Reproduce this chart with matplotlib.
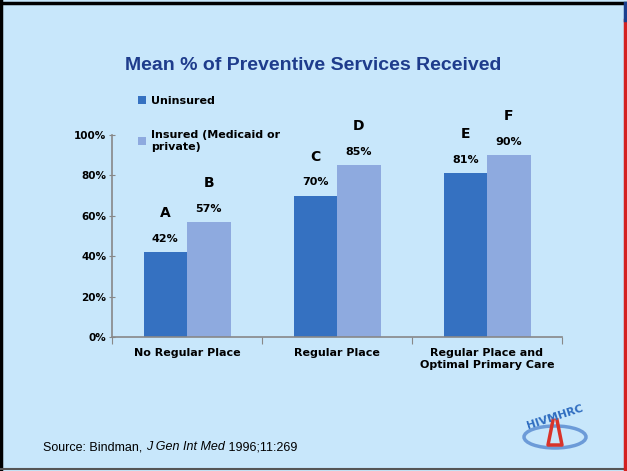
import matplotlib.pyplot as plt
import numpy as np
from matplotlib.lines import Line2D
from matplotlib.patches import Ellipse

categories = ["No Regular Place", "Regular Place", "Regular Place and\nOptimal Primary Care"]
uninsured = [42, 70, 81]
insured = [57, 85, 90]
uninsured_letters = ["A", "C", "E"]
insured_letters = ["B", "D", "F"]
uninsured_labels = ["42%", "70%", "81%"]
insured_labels = ["57%", "85%", "90%"]
yticks = [0, 20, 40, 60, 80, 100]
source_parts = [("Source: Bindman, ", "normal"), ("J Gen Int Med", "italic"), (" 1996;11:269", "normal")]

W, H = 627, 471
bg = "#C8E7FB"
c_unins = "#3571C1"
c_ins = "#8EAADF"

fig = plt.figure(figsize=(W / 100, H / 100), dpi=100, facecolor=bg)
ax = fig.add_axes([112 / W, (H - 337) / H, 450 / W, 202 / H])
ax.set_facecolor(bg)

x = np.arange(len(categories))
w = 0.29
b1 = ax.bar(x - w / 2, uninsured, w, color=c_unins, label="Uninsured")
b2 = ax.bar(x + w / 2, insured, w, color=c_ins, label="Insured (Medicaid or\nprivate)")

for bars, labs, lets in [(b1, uninsured_labels, uninsured_letters), (b2, insured_labels, insured_letters)]:
    for r, lab, let in zip(bars, labs, lets):
        cx = r.get_x() + r.get_width() / 2
        top = r.get_height()
        ax.annotate(lab, (cx, top), xytext=(0, 9.5), textcoords="offset points",
                    ha="center", va="center", fontsize=8, fontweight="bold", color="black")
        ax.annotate(let, (cx, top), xytext=(0, 28), textcoords="offset points",
                    ha="center", va="center", fontsize=10, fontweight="bold", color="black")

ax.set_xlim(-0.5, 2.5)
ax.set_ylim(0, 100)
ax.set_yticks(yticks)
ax.set_yticklabels([f"{t}%" for t in yticks], fontsize=7.5, fontweight="bold")
ax.set_xticks([-0.5, 0.5, 1.5, 2.5])
ax.set_xticklabels([])
ax.set_xticks(x, minor=True)
ax.set_xticklabels(categories, minor=True, fontsize=8, fontweight="bold")
ax.tick_params(axis="x", which="minor", length=0, pad=8)
ax.tick_params(axis="x", which="major", length=5, color="#888888", direction="out")
ax.tick_params(axis="y", length=4, color="#888888", direction="inout", pad=2)
for s in ["top", "right"]:
    ax.spines[s].set_visible(False)
for s in ["left", "bottom"]:
    ax.spines[s].set_color("#888888")
    ax.spines[s].set_linewidth(1.2)

fig.text(313 / W, 1 - 65 / H, "Mean % of Preventive Services Received", ha="center", va="center",
         fontsize=14, fontweight="bold", color="#1E3C8C", family="Liberation Sans")

leg = fig.legend(handles=[b1, b2], loc="upper left", bbox_to_anchor=(128 / W, 1 - 86 / H),
                 frameon=False, prop={"weight": "bold", "size": 8},
                 handlelength=0.7, handleheight=0.7, handletextpad=0.5, labelspacing=2.2)

# source line, pieces chained one after another
renderer = fig.canvas.get_renderer()
xpos = 43
for txt, st in source_parts:
    t = fig.text(xpos / W, 1 - 447 / H, txt, ha="left", va="center", fontsize=9,
                 family="Liberation Sans", style=st)
    bb = t.get_window_extent(renderer=renderer)
    xpos += bb.width

# logo stand-in
fig.add_artist(Ellipse((555 / W, 1 - 437 / H), 62 / W, 22 / H, fill=False, ec="#6C9BD8", lw=2.5))
fig.text(555 / W, 1 - 417 / H, "HIVMHRC", ha="center", va="center", fontsize=8, fontweight="bold",
         color="#2F6DC0", rotation=18)
fig.add_artist(Line2D([553 / W, 548 / W, 562 / W, 557 / W], [1 - 420 / H, 1 - 445 / H, 1 - 445 / H, 1 - 420 / H],
                      color="#D9342A", lw=2.5))

# slide frame
fig.add_artist(Line2D([1 / W, 1 / W], [0, 1], color="black", lw=2.5))
fig.add_artist(Line2D([0, 1], [1 - 2.5 / H, 1 - 2.5 / H], color="black", lw=2.5))
fig.add_artist(Line2D([0, 1], [1 - 468.5 / H, 1 - 468.5 / H], color="#555555", lw=1.5))
fig.add_artist(Line2D([624.5 / W, 624.5 / W], [1 - 20 / H, 1 - 469 / H], color="#D42020", lw=2.5))
fig.add_artist(Line2D([624.5 / W, 624.5 / W], [1 - 3 / H, 1 - 20 / H], color="#1B3F8F", lw=2.5))

fig.savefig("out.png", dpi=100, facecolor=bg)
